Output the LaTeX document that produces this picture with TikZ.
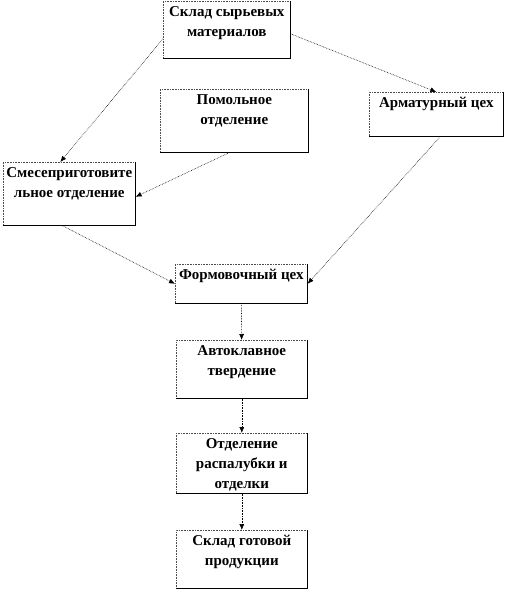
\documentclass[tikz,border=0pt]{standalone}
\usepackage{fontspec}
\setmainfont{Liberation Serif}
\usetikzlibrary{arrows.meta}
\tikzset{
  % boxes: text hangs from the top edge, as in the original scheme
  unit/.style 2 args={draw=black!70,densely dotted,line width=0.6pt,anchor=north west,inner sep=0pt,
             font=\bfseries\fontsize{15}{20}\selectfont,
             execute at begin node={\begin{minipage}[t][#2][t]{#1}\centering\vspace*{5pt}},
             execute at end node={\end{minipage}}},
  rim/.style={line width=0.6pt,black},
  flow/.style={densely dotted,line width=0.6pt,-{Latex[length=6pt,width=5pt]}},
}
\begin{document}
\begin{tikzpicture}[x=1pt,y=-1pt]
  \useasboundingbox (0,0) rectangle (510,593);
  % top row
  \node[unit={127pt}{57pt}] (sklad) at (163,1) {Склад сырьевых\\материалов};
  \node[unit={148pt}{63pt}] (pomol) at (160,89) {Помольное\\отделение};
  \node[unit={134pt}{44pt}] (armat) at (369,92) {Арматурный цех};
  \node[unit={132pt}{63pt}] (smes) at (3,162) {Смесеприготовите\\льное отделение};
  % main line
  \node[unit={132pt}{39pt}] (form) at (175,264) {Формовочный цех};
  \node[unit={131pt}{58pt}] (auto) at (176,340) {Автоклавное\\твердение};
  \node[unit={131pt}{60pt}] (otd) at (176,433) {Отделение\\распалубки и\\отделки};
  \node[unit={131pt}{58pt}] (gotov) at (176,530) {Склад готовой\\продукции};
  % solid right and bottom edges
  \foreach \n in {sklad,pomol,armat,smes,form,auto,otd,gotov}
    \draw[rim] (\n.north east) -- (\n.south east) -- (\n.south west);
  % connectors
  \draw[flow] ([yshift=-9pt]sklad.west) -- ([xshift=-9pt]smes.north);
  \draw[flow] ([yshift=-4pt]sklad.east) -- (armat.north);
  \draw[flow] ([xshift=-5pt]pomol.south) -- ([yshift=-3pt]smes.east);
  \draw[flow] ([xshift=-7pt]smes.south) -- (form.west);
  \draw[flow] ([xshift=4pt]armat.south) -- (form.east);
  \draw[flow] (form) -- (auto);
  \draw[flow] (auto) -- (otd);
  \draw[flow] (otd) -- (gotov);
\end{tikzpicture}
\end{document}
